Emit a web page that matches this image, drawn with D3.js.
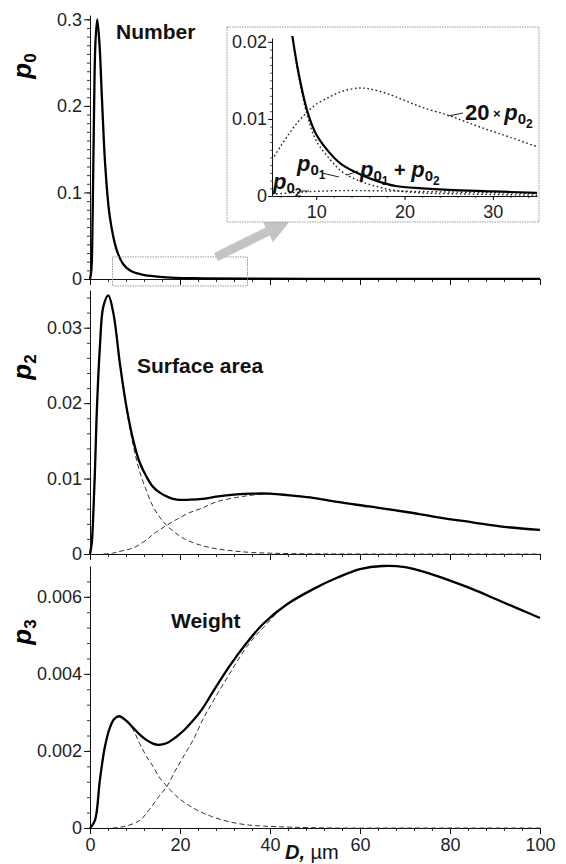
<!DOCTYPE html>
<html>
<head>
<meta charset="utf-8">
<script src="https://cdn.jsdelivr.net/npm/d3@7"></script>
<style>
  body { margin: 0; background: #fff; }
  svg { display: block; }
  text { font-family: "Liberation Sans", Arial, sans-serif; }
</style>
</head>
<body>
<div id="chart"></div>
<script>
// ---- data (D in um, p = probability density) ----

// Number distribution p0 (sum of both modes)
const dNum = [0, 0.3, 0.6, 0.9, 1.2, 1.6, 2.1, 2.7, 3.4, 4.4, 5.9, 7.4, 9, 11.6, 15, 19, 25, 35, 50, 70, 100];
const pNum = [0, 0.01, 0.08, 0.195, 0.272, 0.300, 0.272, 0.203, 0.130, 0.072, 0.034, 0.017, 0.0095, 0.0050, 0.0027, 0.0013, 0.0008, 0.0004, 0.0002, 0.0001, 0.00003];

// inset (zoom of p0 for D = 5..35)
const dInSum = [7.3, 8, 9, 10, 11.6, 13, 15, 17, 19, 22, 25, 30, 35];
const pInSum = [0.0208, 0.0160, 0.0110, 0.0080, 0.0055, 0.0040, 0.0028, 0.0019, 0.0013, 0.0010, 0.0008, 0.0006, 0.0004];
const pIn01 = [0.0206, 0.0156, 0.0104, 0.0072, 0.0047, 0.0031, 0.0019, 0.0012, 0.0007, 0.0004, 0.0003, 0.0002, 0.0001];
const dIn02 = [5, 7, 9, 11, 13, 15, 18, 21, 25, 30, 35];
const pIn02 = [0.00023, 0.0004, 0.00055, 0.00065, 0.0007, 0.0007, 0.00066, 0.0006, 0.00052, 0.00043, 0.00032];
const dIn02x20 = [5, 6, 7, 8, 9, 10, 11.6, 13, 14.8, 16, 18, 20, 22, 24.9, 27, 29.4, 32, 35];
const pIn02x20 = [0.0047, 0.0065, 0.0082, 0.0097, 0.0109, 0.0119, 0.0129, 0.0136, 0.0140, 0.0139, 0.0133, 0.0124, 0.0115, 0.0105, 0.0096, 0.0086, 0.0076, 0.0064];

// Surface area distribution p2
const dSurf = [0, 0.4, 0.74, 1.1, 1.5, 2.2, 2.96, 4.07, 5.2, 6.7, 8.1, 9.6, 11, 12.6, 14, 15.6, 17.5, 19.3, 22.2, 25, 28, 32.6, 36, 40, 44, 48.9, 55, 62, 70, 77, 85, 92, 100];
const pSurf = [0, 0.0015, 0.0054, 0.011, 0.0187, 0.0275, 0.0328, 0.0343, 0.0319, 0.0250, 0.0195, 0.0151, 0.0122, 0.0102, 0.0089, 0.0081, 0.0075, 0.0072, 0.0072, 0.0073, 0.0076, 0.0079, 0.0080, 0.0080, 0.0078, 0.0075, 0.0069, 0.0063, 0.0056, 0.0049, 0.0042, 0.0036, 0.0032];
const dSurf1 = [0, 0.74, 1.5, 2.2, 2.96, 4.07, 5.2, 6.7, 8.1, 9.6, 11, 12.6, 14, 15.6, 17, 19, 21, 24.4, 28, 32, 36, 45, 60, 100];
const pSurf1 = [0, 0.0054, 0.0187, 0.0275, 0.0328, 0.0343, 0.0319, 0.0249, 0.0192, 0.0144, 0.0110, 0.0083, 0.0063, 0.0048, 0.0038, 0.0028, 0.0020, 0.0012, 0.0007, 0.0004, 0.0002, 0.00005, 0, 0];
const dSurf2 = [3, 5, 7, 9.6, 12.6, 14, 17, 19.3, 22.2, 25, 28, 32.6, 36, 40, 44, 48.9, 55, 62, 70, 77, 85, 92, 100];
const pSurf2 = [0, 0.0001, 0.0004, 0.0008, 0.0019, 0.0026, 0.0038, 0.0046, 0.0055, 0.0061, 0.0069, 0.0075, 0.0078, 0.0080, 0.0078, 0.0075, 0.0069, 0.0063, 0.0056, 0.0049, 0.0042, 0.0036, 0.0032];

// Weight distribution p3
const dWt = [0, 1.1, 2.2, 3.3, 4.4, 5.4, 6.5, 8, 9.6, 11, 12.6, 14, 15.2, 17, 19, 21, 23, 25, 27.4, 31, 34.8, 38.5, 43.7, 49.6, 55, 60, 65, 70, 75, 80, 85, 90, 95, 100];
const pWt = [0, 0.0002, 0.00125, 0.0021, 0.0026, 0.00283, 0.0029, 0.00279, 0.0026, 0.00243, 0.00228, 0.00219, 0.00216, 0.0022, 0.00235, 0.00255, 0.0028, 0.0031, 0.00355, 0.0042, 0.0048, 0.0053, 0.0058, 0.0062, 0.0065, 0.00672, 0.0068, 0.00677, 0.00662, 0.00642, 0.0062, 0.00595, 0.0057, 0.00545];
const dWt1 = [0, 1.1, 2.2, 3.3, 4.4, 5.4, 6.5, 8, 9.6, 11, 12.6, 14, 15.5, 17.2, 19, 21, 23.7, 27, 31, 35, 38.5, 45, 55, 70, 100];
const pWt1 = [0, 0.0002, 0.00125, 0.0021, 0.0026, 0.00283, 0.0029, 0.0028, 0.00255, 0.0022, 0.00185, 0.0016, 0.0013, 0.00107, 0.00085, 0.00066, 0.00047, 0.0003, 0.00016, 0.00008, 0.00005, 0.00002, 0, 0, 0];
const dWt2 = [5, 8, 11.1, 13, 15.2, 17.2, 19, 21, 23, 25, 27.4, 31, 34.8, 38.5, 43.7, 49.6, 55, 60, 65, 70, 75, 80, 85, 90, 95, 100];
const pWt2 = [0, 0.00005, 0.0002, 0.00045, 0.0008, 0.0011, 0.0015, 0.0019, 0.0023, 0.0028, 0.0033, 0.0040, 0.0047, 0.0052, 0.0058, 0.0062, 0.0065, 0.00672, 0.0068, 0.00677, 0.00662, 0.00642, 0.0062, 0.00595, 0.0057, 0.00545];

// tick labels
const xTicks = [0, 20, 40, 60, 80, 100];
const yTicksNum = [0, 0.1, 0.2, 0.3];
const yTicksSurf = [0, 0.01, 0.02, 0.03];
const yTicksWt = [0, 0.002, 0.004, 0.006];
const xTicksInset = [10, 20, 30];
const yTicksInset = [0, 0.01, 0.02];

// ---- layout ----
const width = 566, height = 864;
const font = "'Liberation Sans', Arial, sans-serif";

const svg = d3.select("#chart").append("svg")
  .attr("width", width)
  .attr("height", height);

const x = d3.scaleLinear().domain([0, 100]).range([90, 540]);

const fmt = d => d === 0 ? "0" : String(d);
const smooth = d3.curveCatmullRom.alpha(0.5);

const panels = [
  { top: 15, bottom: 279, max: 0.305, ticks: yTicksNum, minor: 0.01, labels: false,
    sub: "0", lab: [31, 66], title: "Number", tpos: [116, 39],
    curves: [{ d: dNum, p: pNum, kind: "solid" }] },
  { top: 290, bottom: 554, max: 0.035, ticks: yTicksSurf, minor: 0.002, labels: false,
    sub: "2", lab: [31, 367], title: "Surface area", tpos: [137, 373],
    curves: [
      { d: dSurf1, p: pSurf1, kind: "dash" },
      { d: dSurf2, p: pSurf2, kind: "dash" },
      { d: dSurf, p: pSurf, kind: "solid" }] },
  { top: 566, bottom: 828, max: 0.0068, ticks: yTicksWt, minor: 0.0004, labels: true,
    sub: "3", lab: [31, 632], title: "Weight", tpos: [171, 628],
    curves: [
      { d: dWt1, p: pWt1, kind: "dash" },
      { d: dWt2, p: pWt2, kind: "dash" },
      { d: dWt, p: pWt, kind: "solid" }] }
];

const styleAxis = g => {
  g.attr("font-size", 18).attr("font-family", font).attr("color", "#111");
  g.selectAll("text").attr("fill", "#222");
};

panels.forEach(pn => {
  const y = d3.scaleLinear().domain([0, pn.max]).range([pn.bottom, pn.top]);

  // y axis: minor then major
  svg.append("g")
    .attr("transform", `translate(${x(0)},0)`)
    .call(d3.axisLeft(y).tickValues(d3.range(0, pn.max, pn.minor)).tickSize(3).tickSizeOuter(0).tickFormat(""))
    .call(g => g.select(".domain").remove())
    .attr("color", "#333");
  svg.append("g")
    .attr("transform", `translate(${x(0)},0)`)
    .call(d3.axisLeft(y).tickValues(pn.ticks).tickSize(6).tickSizeOuter(0).tickPadding(2).tickFormat(fmt))
    .call(styleAxis);

  // x axis
  svg.append("g")
    .attr("transform", `translate(0,${pn.bottom})`)
    .call(d3.axisBottom(x).tickValues(d3.range(0, 101, 4)).tickSize(3).tickSizeOuter(0).tickFormat(""))
    .call(g => g.select(".domain").remove())
    .attr("color", "#333");
  svg.append("g")
    .attr("transform", `translate(0,${pn.bottom})`)
    .call(d3.axisBottom(x).tickValues(xTicks).tickSize(6).tickSizeOuter(0).tickPadding(4)
      .tickFormat(pn.labels ? fmt : ""))
    .call(styleAxis);

  // curves
  const line = d3.line()
    .x(d => x(d[0]))
    .y(d => y(Math.max(0, d[1])))
    .curve(smooth);

  pn.curves.forEach(c => {
    svg.append("path")
      .datum(d3.zip(c.d, c.p))
      .attr("d", line)
      .attr("fill", "none")
      .attr("stroke", c.kind === "solid" ? "#000" : "#333")
      .attr("stroke-width", c.kind === "solid" ? 2.3 : 1)
      .attr("stroke-dasharray", c.kind === "solid" ? null : "5,3");
  });

  // y label p_n
  const t = svg.append("text")
    .attr("transform", `translate(${pn.lab[0]},${pn.lab[1]}) rotate(-90)`)
    .attr("text-anchor", "middle")
    .attr("font-weight", "bold")
    .attr("font-size", 26);
  t.append("tspan").attr("font-style", "italic").text("p");
  t.append("tspan").attr("font-size", 17).attr("dy", 5).text(pn.sub);

  // panel title
  svg.append("text")
    .attr("x", pn.tpos[0]).attr("y", pn.tpos[1])
    .attr("font-size", 21).attr("font-weight", "bold")
    .attr("fill", "#111")
    .text(pn.title);

  pn.y = y;
});

// x axis title
const xt = svg.append("text").attr("x", 285).attr("y", 859).attr("font-size", 20).attr("fill", "#111");
xt.append("tspan").attr("font-weight", "bold").attr("font-style", "italic").text("D,");
xt.append("tspan").text(" \u00b5m");

// ---- zoom box in the Number panel + arrow ----
const yNum = panels[0].y;
const zoomD = [5, 35];
const zoomP = [-0.008, 0.0255];
svg.append("rect")
  .attr("x", x(zoomD[0])).attr("y", yNum(zoomP[1]))
  .attr("width", x(zoomD[1]) - x(zoomD[0]))
  .attr("height", yNum(zoomP[0]) - yNum(zoomP[1]))
  .attr("fill", "none").attr("stroke", "#999").attr("stroke-width", 1)
  .attr("stroke-dasharray", "1.5,1");

// grey block arrow
{
  const s = [216, 257], e = [291, 220];
  const dx = e[0] - s[0], dy = e[1] - s[1], L = Math.hypot(dx, dy);
  const ux = dx / L, uy = dy / L, nx = -uy, ny = ux;
  const hl = 26, hw = 12, sw = 4.5;
  const bx = e[0] - ux * hl, by = e[1] - uy * hl;
  const pts = [
    [s[0] + nx * sw, s[1] + ny * sw], [bx + nx * sw, by + ny * sw], [bx + nx * hw, by + ny * hw],
    e, [bx - nx * hw, by - ny * hw], [bx - nx * sw, by - ny * sw], [s[0] - nx * sw, s[1] - ny * sw]
  ];
  svg.append("polygon").attr("points", pts.map(p => p.join(",")).join(" ")).attr("fill", "#c4c4c4");
}

// ---- inset ----
const inset = svg.append("g");
inset.append("rect")
  .attr("x", 227).attr("y", 27).attr("width", 312).attr("height", 195)
  .attr("fill", "#fff").attr("stroke", "#999").attr("stroke-width", 1)
  .attr("stroke-dasharray", "1.5,1");

const xi = d3.scaleLinear().domain([5, 35]).range([272, 537]);
const yi = d3.scaleLinear().domain([0, 0.0205]).range([196, 38]);

inset.append("g")
  .attr("transform", "translate(272,0)")
  .call(d3.axisLeft(yi).tickValues(d3.range(0, 0.0205, 0.001)).tickSize(2).tickSizeOuter(0).tickFormat(""))
  .call(g => g.select(".domain").remove())
  .attr("color", "#555");
inset.append("g")
  .attr("transform", "translate(272,0)")
  .call(d3.axisLeft(yi).tickValues(yTicksInset).tickSize(4).tickSizeOuter(0).tickPadding(1).tickFormat(fmt))
  .call(styleAxis);
inset.append("g")
  .attr("transform", "translate(0,196)")
  .call(d3.axisBottom(xi).tickValues(d3.range(6, 35, 2)).tickSize(2).tickSizeOuter(0).tickFormat(""))
  .call(g => g.select(".domain").remove())
  .attr("color", "#555");
inset.append("g")
  .attr("transform", "translate(0,196)")
  .call(d3.axisBottom(xi).tickValues(xTicksInset).tickSize(4).tickSizeOuter(0).tickPadding(5).tickFormat(fmt))
  .call(styleAxis);

svg.append("clipPath").attr("id", "insetClip")
  .append("rect").attr("x", 272).attr("y", 36).attr("width", 266).attr("height", 161);

const lineIn = d3.line().x(d => xi(d[0])).y(d => yi(d[1])).curve(smooth);
const insetCurves = [
  { d: dIn02x20, p: pIn02x20, kind: "dot" },
  { d: dIn02, p: pIn02, kind: "dot" },
  { d: dInSum, p: pIn01, kind: "dot" },
  { d: dInSum, p: pInSum, kind: "solid" }
];
insetCurves.forEach(c => {
  inset.append("path")
    .datum(d3.zip(c.d, c.p))
    .attr("clip-path", "url(#insetClip)")
    .attr("d", lineIn)
    .attr("fill", "none")
    .attr("stroke", c.kind === "solid" ? "#000" : "#222")
    .attr("stroke-width", c.kind === "solid" ? 2.2 : 1.4)
    .attr("stroke-dasharray", c.kind === "solid" ? null : "1.6,2.6");
});

// inset labels
const subLabel = (g, xx, yy, parts) => {
  const t = g.append("text").attr("x", xx).attr("y", yy).attr("font-weight", "bold").attr("fill", "#111");
  parts.forEach(p => {
    const s = t.append("tspan").attr("font-size", p.size).text(p.txt);
    if (p.italic) s.attr("font-style", "italic");
    if (p.dy) s.attr("dy", p.dy);
  });
  return t;
};
const pSub = (a, b) => [
  { txt: "p", size: 22, italic: true },
  { txt: a, size: 15, dy: 4 },
  { txt: b, size: 12, dy: 4 }
];

subLabel(inset, 465, 120, [{ txt: "20", size: 22 }, { txt: " \u00d7 ", size: 13, dy: -2 }, { txt: "p", size: 22, italic: true, dy: 2 },
  { txt: "0", size: 15, dy: 4 }, { txt: "2", size: 12, dy: 4 }]);
subLabel(inset, 297, 171, pSub("0", "1"));
subLabel(inset, 273, 189, pSub("0", "2"));
const sumLab = subLabel(inset, 360, 177, pSub("0", "1"));
sumLab.append("tspan").attr("font-size", 20).attr("dy", -8).text(" + ");
pSub("0", "2").forEach(p => {
  const s = sumLab.append("tspan").attr("font-size", p.size).text(p.txt);
  if (p.italic) s.attr("font-style", "italic");
  if (p.txt === "p") s.attr("dy", 0); else s.attr("dy", 4);
});

// leader lines
const leaders = [
  [[463, 113], [xi(24.9), yi(0.0105) + 1]],
  [[358, 171], [347, 175]],
  [[322, 173], [339, 177]],
  [[299, 191], [309, 191]]
];
leaders.forEach(l => {
  inset.append("line")
    .attr("x1", l[0][0]).attr("y1", l[0][1])
    .attr("x2", l[1][0]).attr("y2", l[1][1])
    .attr("stroke", "#222").attr("stroke-width", 1);
});
</script>
</body>
</html>
